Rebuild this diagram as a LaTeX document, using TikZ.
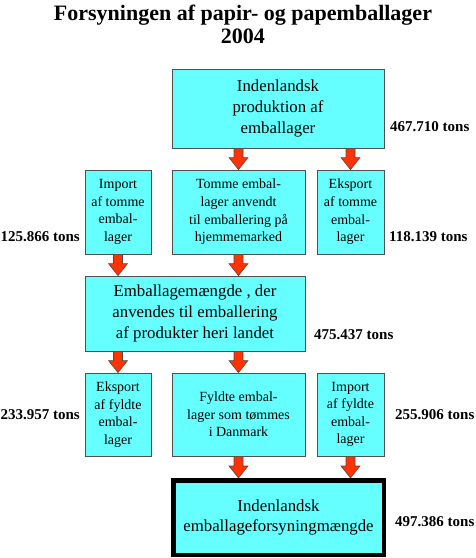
\documentclass[tikz,border=0pt]{standalone}
\usepackage{fontspec}
\setmainfont{Liberation Serif}
\usepackage{xcolor}
\usepackage{tikz}
\usetikzlibrary{calc}
\definecolor{boxcyan}{HTML}{66FFFF}
\definecolor{pilrod}{HTML}{FF3300}
\definecolor{kant}{HTML}{505050}
\newcommand{\blokpil}[2]{\path[pil] let \p1=#1, \p2=#2 in
  ({\x1-4.5pt},\y1) -- ({\x1+4.5pt},\y1) -- ({\x1+4.5pt},{\y2+12pt})
  -- ({\x1+9.5pt},{\y2+12pt}) -- (\x1,\y2) -- ({\x1-9.5pt},{\y2+12pt})
  -- ({\x1-4.5pt},{\y2+12pt}) -- cycle;}

\begin{document}
\begin{tikzpicture}[x=1pt,y=-1pt]
 \tikzstyle{boks}=[rectangle,draw=kant,line width=0.8pt,fill=boxcyan,
   inner sep=0pt,align=center]
 \tikzstyle{stor}=[boks,font=\fontsize{16.8}{20.7}\selectfont]
 \tikzstyle{lille}=[boks,font=\fontsize{14}{17.6}\selectfont,
   minimum height=84pt]
 \tikzstyle{tons}=[font=\fontsize{15}{18}\selectfont\bfseries,
   inner sep=0pt,anchor=base west]
 \tikzstyle{pil}=[fill=pilrod,draw=black!70,line width=0.6pt]
 \useasboundingbox (0,0) rectangle (475,558);
 \node (titel) [anchor=north,align=center,
   font=\fontsize{22}{23.5}\selectfont\bfseries] at (243,1)
   {Forsyningen af papir- og papemballager\\2004};
 \node (prod) [stor,minimum width=212pt,minimum height=79pt] at (278,108.5)
   {Indenlandsk\\produktion af\\emballager};
 \node (imptom) [lille,minimum width=66pt] at (118,212)
   {Import\\af tomme\\embal-\\lager};
 \node (tomme) [lille,minimum width=133pt] at (238.5,212)
   {Tomme embal-\\lager anvendt\\til emballering på\\hjemmemarked};
 \node (ekstom) [lille,minimum width=67pt] at (350.5,212)
   {Eksport\\af tomme\\embal-\\lager};
 \node (mgd) [stor,minimum width=220pt,minimum height=75pt] at (195,313.5)
   {Emballagemængde , der\\anvendes til emballering\\af produkter heri landet};
 \node (eksfyl) [lille,minimum width=66pt,minimum height=83pt] at (118,414.5)
   {Eksport\\af fyldte\\embal-\\lager};
 \node (fyldte) [lille,minimum width=133pt,minimum height=83pt] at (238.5,414.5)
   {Fyldte embal-\\lager som tømmes\\i Danmark};
 \node (impfyl) [lille,minimum width=67pt,minimum height=83pt] at (350.5,414.5)
   {Import\\af fyldte\\embal-\\lager};
 \node (fors) [stor,draw=black,line width=4.5pt,minimum width=210.5pt,
   minimum height=74.5pt] at (278.5,517.5)
   {Indenlandsk\\emballageforsyningmængde};
 \node (tprod) [tons] at (390,131) {467.710 tons};
 \node (timptom) [tons,anchor=base east] at (80,241.7) {125.866 tons};
 \node (tekstom) [tons] at (389,241.7) {118.139 tons};
 \node (tmgd) [tons] at (314,339) {475.437 tons};
 \node (teksfyl) [tons,anchor=base east] at (80,419.3) {233.957 tons};
 \node (timpfyl) [tons] at (395,419.3) {255.906 tons};
 \node (tfors) [tons] at (395,526) {497.386 tons};
 \blokpil{(prod.south -| tomme.north)}{(tomme.north)}
 \blokpil{(prod.south -| ekstom.north)}{(ekstom.north)}
 \blokpil{(imptom.south)}{(mgd.north -| imptom.south)}
 \blokpil{(tomme.south)}{(mgd.north -| tomme.south)}
 \blokpil{(mgd.south -| eksfyl.north)}{(eksfyl.north)}
 \blokpil{(mgd.south -| fyldte.north)}{(fyldte.north)}
 \blokpil{(fyldte.south)}{(fors.north -| fyldte.south)}
 \blokpil{(impfyl.south)}{(fors.north -| impfyl.south)}
\end{tikzpicture}
\end{document}
